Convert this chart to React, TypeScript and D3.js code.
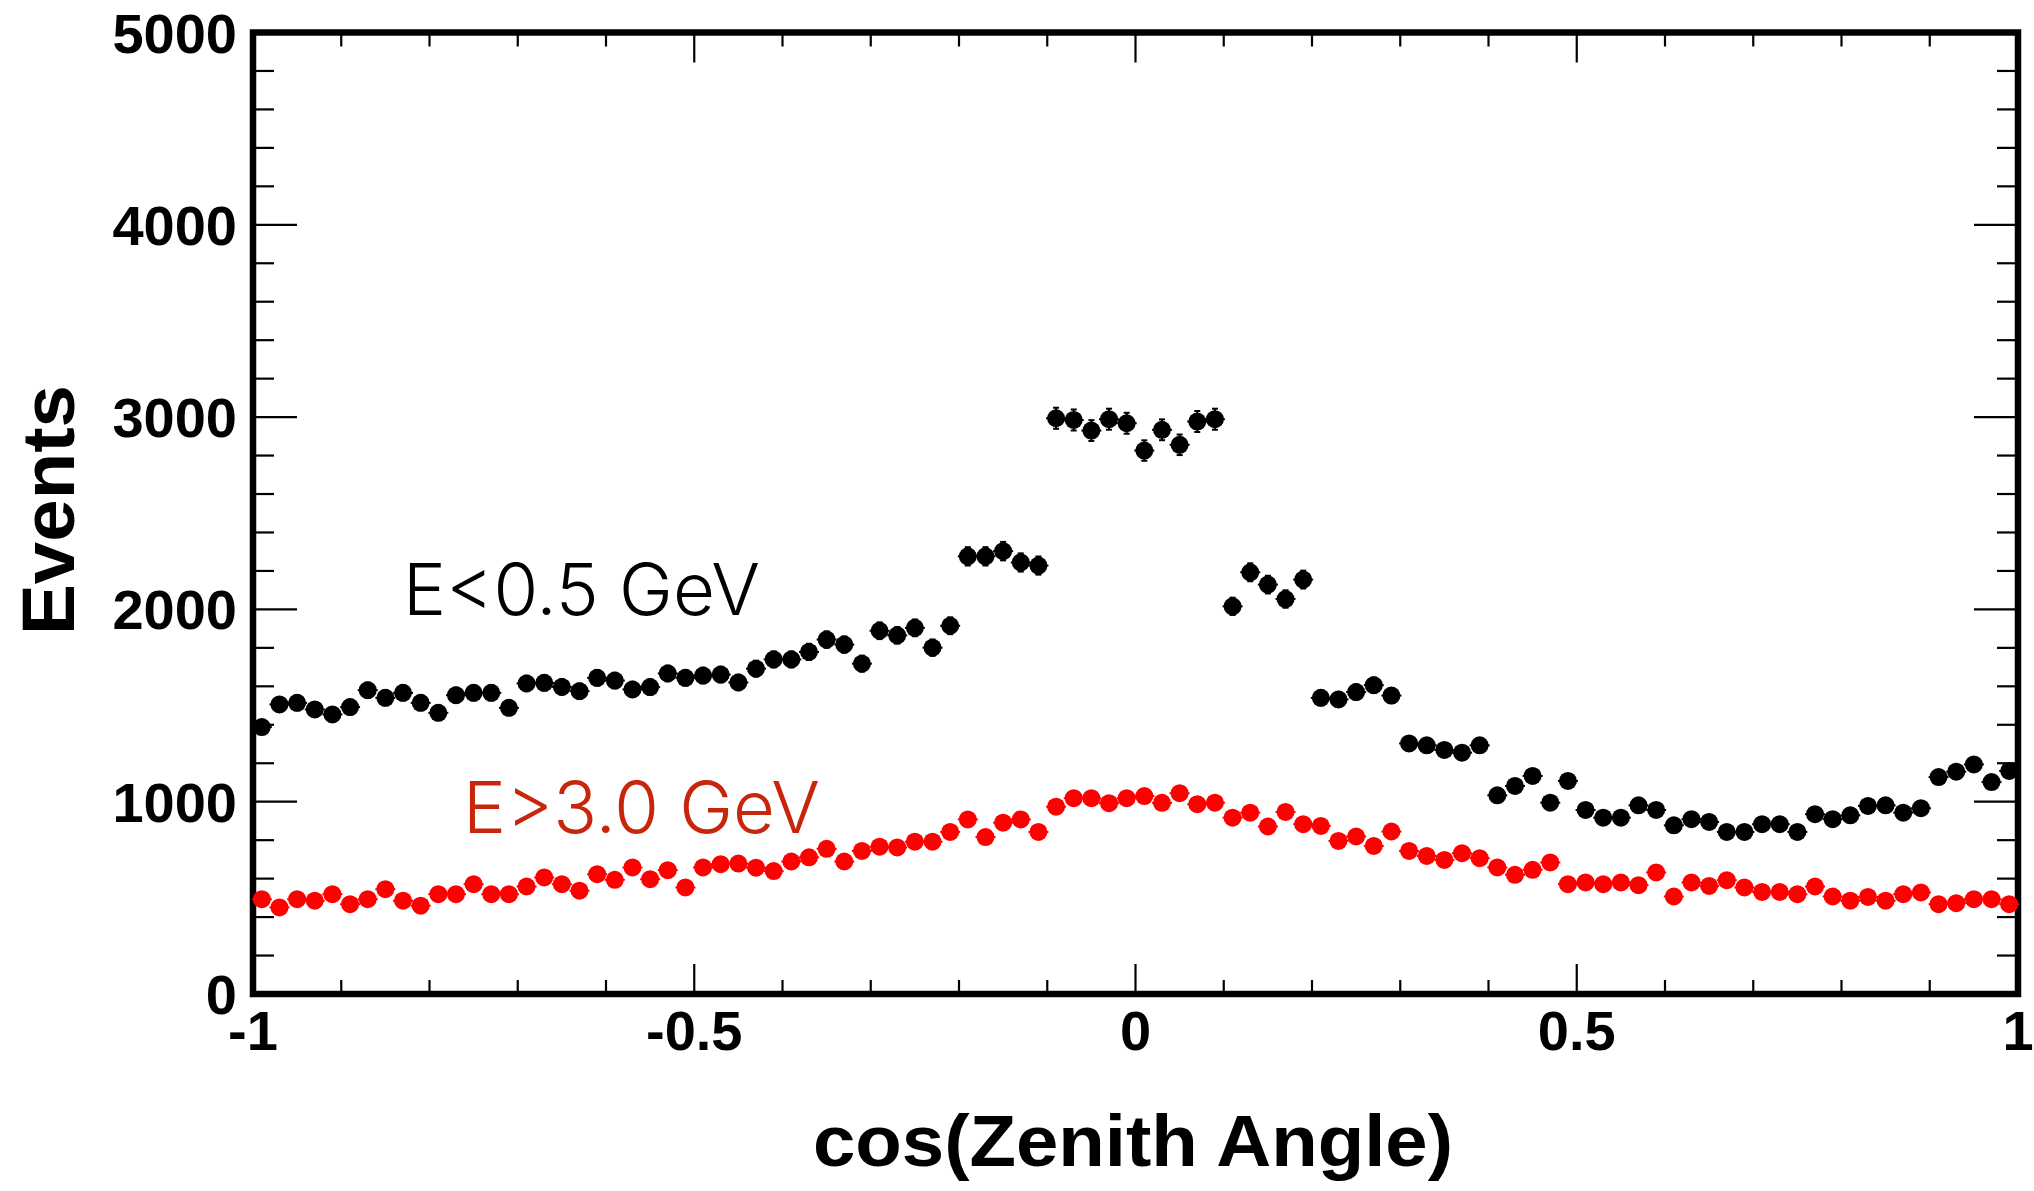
import React from "react";
import * as d3 from "d3";

// histogram: 100 bins of cos(zenith) from -1 to 1
const X_MIN = -1;
const X_MAX = 1;
const N_BINS = 100;

const lowEnergy = [
  1388, 1506, 1514, 1480, 1454, 1492, 1580, 1540, 1566, 1514,
  1462, 1554, 1566, 1566, 1488, 1615, 1618, 1597, 1575, 1644,
  1630, 1584, 1596, 1667, 1644, 1656, 1661, 1620, 1692, 1740,
  1740, 1779, 1843, 1817, 1718, 1889, 1865, 1904, 1801, 1915,
  2276, 2276, 2303, 2244, 2228, 2994, 2985, 2930, 2989, 2968,
  2826, 2934, 2856, 2977, 2989, 2016, 2193, 2129, 2054, 2155,
  1540, 1532, 1570, 1606, 1552, 1303, 1293, 1269, 1255, 1293,
  1033, 1082, 1134, 995, 1108, 957, 917, 917, 981, 957,
  877, 909, 895, 843, 843, 883, 883, 843, 935, 909,
  929, 978, 981, 943, 966, 1128, 1156, 1194, 1102, 1160,
];

const highEnergy = [
  493, 450, 493, 485, 519, 467, 493, 545, 485, 459,
  519, 519, 571, 519, 519, 559, 606, 571, 537, 623,
  594, 658, 597, 644, 554, 658, 675, 678, 657, 639,
  689, 711, 755, 689, 744, 766, 762, 792, 792, 843,
  908, 816, 891, 908, 843, 974, 1018, 1018, 992, 1018,
  1029, 994, 1044, 987, 995, 917, 943, 871, 947, 883,
  874, 796, 819, 770, 845, 744, 718, 697, 732, 706,
  658, 620, 646, 684, 571, 580, 571, 580, 566, 632,
  507, 580, 562, 592, 554, 531, 531, 519, 559, 507,
  485, 505, 485, 519, 528, 467, 472, 493, 493, 467,
];

const yMajorTicks = [0, 1000, 2000, 3000, 4000, 5000];
const xMajorTicks = [-1, -0.5, 0, 0.5, 1];
const xTickLabels = ["-1", "-0.5", "0", "0.5", "1"];

const W = 2034;
const H = 1191;
const left = 253;
const right = 2018;
const top = 32.5;
const bottom = 994;

const x = d3.scaleLinear().domain([X_MIN, X_MAX]).range([left, right]);
const y = d3.scaleLinear().domain([0, 5000]).range([bottom, top]);

const binW = (X_MAX - X_MIN) / N_BINS;
const centers = d3.range(N_BINS).map(i => X_MIN + (i + 0.5) * binW);

const Points = ({ values, color }: { values: number[]; color: string }) => (
  <g fill={color} stroke={color} strokeWidth={2}>
    {values.map((v, i) => {
      const cx = x(centers[i]);
      const cy = y(v);
      const err = Math.sqrt(v);
      const y1 = y(v + err);
      const y2 = y(v - err);
      return (
        <g key={i}>
          <line x1={cx - 10} x2={cx + 10} y1={cy} y2={cy} />
          <line x1={cx} x2={cx} y1={y1} y2={y2} />
          <line x1={cx - 3} x2={cx + 3} y1={y1} y2={y1} />
          <line x1={cx - 3} x2={cx + 3} y1={y2} y2={y2} />
          <circle cx={cx} cy={cy} r={9} stroke="none" />
        </g>
      );
    })}
  </g>
);

export default function App() {
  const xMinor = d3.range(-10, 11).map(k => k / 10);
  const yMinor = d3.range(0, 26).map(k => k * 200);
  const font = "'Liberation Sans', Arial, Helvetica, sans-serif";
  const thin = "Inter, Roboto, 'Open Sans', 'Liberation Sans', sans-serif";

  return (
    <svg
      width={W}
      height={H}
      style={{ position: "absolute", left: 0, top: 0, background: "#fff" }}
    >
      <rect x={0} y={0} width={W} height={H} fill="#fff" />

      {/* ticks */}
      <g stroke="#000" strokeWidth={2.2}>
        {xMinor.map(t => {
          const major = xMajorTicks.some(m => Math.abs(m - t) < 1e-9);
          const len = major ? 30 : 14;
          return (
            <g key={"x" + t}>
              <line x1={x(t)} x2={x(t)} y1={bottom} y2={bottom - len} />
              <line x1={x(t)} x2={x(t)} y1={top} y2={top + len} />
            </g>
          );
        })}
        {yMinor.map(t => {
          const major = t % 1000 === 0;
          const len = major ? 44 : 21;
          return (
            <g key={"y" + t}>
              <line x1={left} x2={left + len} y1={y(t)} y2={y(t)} />
              <line x1={right} x2={right - len} y1={y(t)} y2={y(t)} />
            </g>
          );
        })}
      </g>

      {/* frame */}
      <rect
        x={left}
        y={top}
        width={right - left}
        height={bottom - top}
        fill="none"
        stroke="#000"
        strokeWidth={6.5}
      />

      {/* tick labels */}
      <g fontFamily={font} fontWeight="bold" fontSize={56} fill="#000">
        {yMajorTicks.map(t => (
          <text key={t} x={237} y={y(t) + 20} textAnchor="end">
            {t}
          </text>
        ))}
        {xMajorTicks.map((t, i) => (
          <text key={t} x={x(t)} y={1050} textAnchor="middle">
            {xTickLabels[i]}
          </text>
        ))}
      </g>

      {/* axis titles */}
      <text
        x={1133}
        y={1166}
        textAnchor="middle"
        fontFamily={font}
        fontWeight="bold"
        fontSize={72}
        textLength={640}
        lengthAdjust="spacingAndGlyphs"
      >
        cos(Zenith Angle)
      </text>
      <text
        transform="translate(74,510) rotate(-90)"
        textAnchor="middle"
        fontFamily={font}
        fontWeight="bold"
        fontSize={74}
        textLength={250}
        lengthAdjust="spacingAndGlyphs"
      >
        Events
      </text>

      <Points values={lowEnergy} color="#000" />
      <Points values={highEnergy} color="#ff0000" />

      {/* labels */}
      <text
        x={403}
        y={615}
        fontFamily={thin}
        fontWeight={300}
        fontSize={72}
        textLength={357}
        lengthAdjust="spacingAndGlyphs"
        fill="#000"
      >
        E&lt;0.5 GeV
      </text>
      <text
        x={463}
        y={833}
        fontFamily={thin}
        fontWeight={300}
        fontSize={72}
        textLength={357}
        lengthAdjust="spacingAndGlyphs"
        fill="#c8260c"
      >
        E&gt;3.0 GeV
      </text>
    </svg>
  );
}
